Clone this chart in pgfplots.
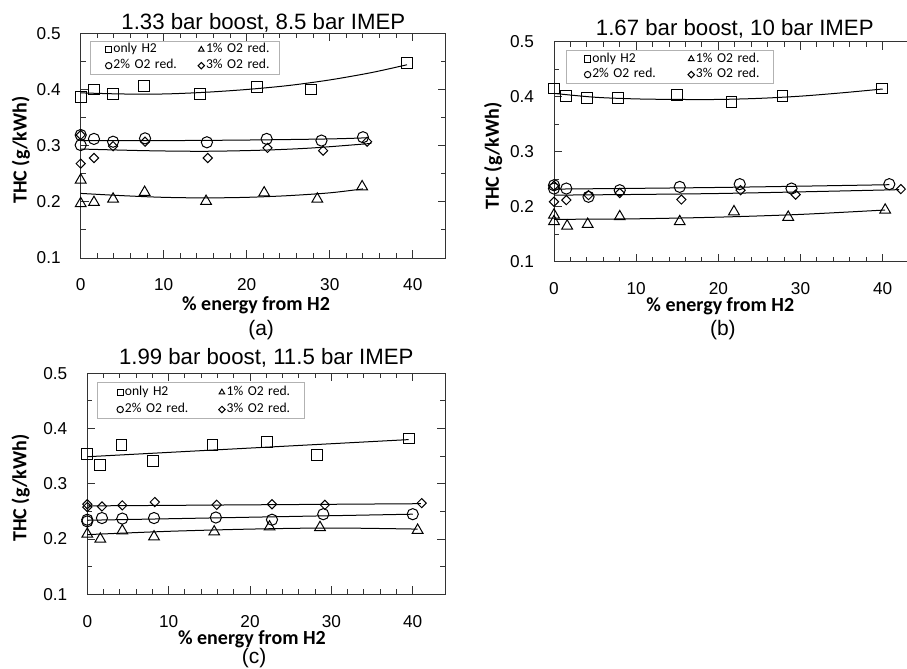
\documentclass[border=0pt]{standalone}
\usepackage{fontspec}
\setmainfont{Liberation Sans}
\newfontfamily\calibri{Carlito}
\usepackage{pgfplots}
\pgfplotsset{compat=1.18}

\pgfplotsset{
  thcax/.style={
    scale only axis,
    clip=false,
    anchor=south west,
    xmin=0, xmax=44, ymin=0.1, ymax=0.5,
    xtick={0,10,20,30,40}, minor x tick num=4,
    ytick={0.1,0.2,0.3,0.4,0.5}, minor y tick num=1,
    tick align=inside, tick pos=both,
    major tick length=4pt, minor tick length=2.5pt,
    axis line style={black!80, line width=0.5pt},
    every tick/.style={black!80, line width=0.5pt},
    /pgf/number format/assume math mode=true,
    yticklabel style={/pgf/number format/.cd, fixed, precision=1, fixed zerofill, /tikz/.cd, font=\fontsize{8.6}{9}\selectfont, xshift=-6.5pt},
    xticklabel style={font=\fontsize{8.6}{9}\selectfont, inner sep=0pt, yshift=-10.2pt},
    xlabel={\% energy from H2},
    ylabel={THC (g/kWh)},
    label style={font=\calibri\bfseries\fontsize{10}{11}\selectfont, inner sep=0pt},
    title style={font=\fontsize{11.1}{12}\selectfont, at={(axis description cs:0.5,1)}, anchor=base},
    legend columns=2,
    legend cell align=left,
    legend style={font=\calibri\fontsize{6.8}{8}\selectfont, draw=black!30, line width=0.5pt, anchor=north west, inner xsep=3pt},
  },
  limg/.style={legend image code/.code={\path (-1.6pt-#1,-1.6pt) (1.6pt,1.6pt); \draw[##1,mark size=1.6pt] plot coordinates {(0pt,0pt)};}},
  ltxt/.style={legend style={nodes={inner sep=0.5pt, text width=#1, align=left}}},
  sq/.style={only marks, mark=square, mark size=2.7pt, mark options={black, line width=0.5pt, fill=none}},
  tri/.style={only marks, mark=triangle, mark size=3.1pt, mark options={black, line width=0.5pt, fill=none}},
  circ/.style={only marks, mark=o, mark size=2.8pt, mark options={black, line width=0.5pt, fill=none}},
  dia/.style={only marks, mark=diamond, mark size=2.3pt, mark options={black, line width=0.5pt, fill=none, xscale=1.33}},
  fit/.style={black, line width=0.5pt, no marks, smooth, forget plot},
}

\begin{document}
\begin{tikzpicture}

% ---------------- (a) ----------------
\begin{axis}[thcax, at={(40.35pt,-129pt)}, width=182.65pt, height=112.35pt,
  title={1.33 bar boost, 8.5 bar IMEP},
  title style={yshift=-4pt},
  xlabel style={at={(axis description cs:0.48,0)}, anchor=base, yshift=-26pt},
  ylabel style={at={(axis description cs:-0.164,0.48)}, anchor=center},
  limg=4.25pt, ltxt=33pt,
  legend style={at={(axis description cs:0.0255,0.967)}, inner ysep=0.6pt, row sep=0.8pt,
    /tikz/every even column/.append style={column sep=4.35pt}}]
\addplot[sq] coordinates {(0,0.387)(1.6,0.400)(3.9,0.392)(7.6,0.406)(14.4,0.392)(21.2,0.405)(27.7,0.400)(39.3,0.447)};
\addlegendentry{only H2}
\addplot[tri] coordinates {(0,0.239)(0,0.197)(1.6,0.199)(3.9,0.205)(7.7,0.217)(15.1,0.201)(22.1,0.216)(28.5,0.205)(33.9,0.227)};
\addlegendentry{1\% O2 red.}
\addplot[circ] coordinates {(0,0.319)(0,0.301)(1.6,0.312)(3.9,0.307)(7.75,0.313)(15.2,0.306)(22.4,0.312)(29.0,0.309)(34.0,0.315)};
\addlegendentry{2\% O2 red.}
\addplot[dia] coordinates {(0,0.319)(0,0.268)(1.6,0.278)(3.9,0.299)(7.75,0.307)(15.3,0.278)(22.5,0.296)(29.2,0.291)(34.5,0.307)};
\addlegendentry{3\% O2 red.}
\addplot[fit] coordinates {(0,0.394)(5,0.392)(10,0.392)(15,0.395)(20,0.400)(25,0.407)(30,0.417)(35,0.430)(39.3,0.444)};
\addplot[fit] coordinates {(0,0.309)(10,0.309)(20,0.310)(30,0.312)(34.5,0.314)};
\addplot[fit] coordinates {(0,0.294)(8,0.291)(15,0.290)(22,0.292)(28,0.296)(35,0.304)};
\addplot[fit] coordinates {(0,0.215)(5,0.211)(10,0.208)(15,0.207)(20,0.208)(25,0.211)(30,0.216)(34,0.223)};
\node[font=\fontsize{10.5}{11}\selectfont] at (axis description cs:0.494,-0.32) {(a)};
\end{axis}

% ---------------- (b) ----------------
\begin{axis}[thcax, at={(277pt,-130.85pt)}, width=180.8pt, height=110pt,
  title={1.67 bar boost, 10 bar IMEP},
  title style={yshift=-2.7pt},
  xlabel style={at={(axis description cs:0.46,0)}, anchor=base, yshift=-25pt},
  ylabel style={at={(axis description cs:-0.168,0.48)}, anchor=center},
  limg=5.75pt, ltxt=35.1pt,
  legend style={at={(axis description cs:0.033,0.962)}, inner ysep=0.6pt, row sep=0.6pt,
    /tikz/every even column/.append style={column sep=6.25pt}}]
\addplot[sq] coordinates {(0,0.415)(1.5,0.402)(4.0,0.397)(7.8,0.397)(15.0,0.403)(21.6,0.391)(27.8,0.401)(39.9,0.415)};
\addlegendentry{only H2}
\addplot[tri] coordinates {(0,0.185)(0,0.173)(1.6,0.165)(4.1,0.168)(8.0,0.182)(15.3,0.173)(21.9,0.191)(28.5,0.181)(40.3,0.194)};
\addlegendentry{1\% O2 red.}
\addplot[circ] coordinates {(0,0.239)(0,0.233)(1.5,0.233)(4.2,0.218)(8.0,0.230)(15.3,0.236)(22.6,0.241)(28.9,0.233)(40.8,0.241)};
\addlegendentry{2\% O2 red.}
\addplot[dia] coordinates {(0,0.238)(0,0.209)(1.5,0.212)(4.2,0.221)(8.0,0.225)(15.5,0.213)(22.7,0.230)(29.4,0.222)(42.2,0.232)};
\addlegendentry{3\% O2 red.}
\addplot[fit] coordinates {(0,0.406)(5,0.399)(10,0.396)(15,0.395)(20,0.395)(25,0.397)(30,0.401)(35,0.407)(40,0.414)};
\addplot[fit] coordinates {(0,0.232)(20,0.235)(40.8,0.240)};
\addplot[fit] coordinates {(0,0.221)(20,0.224)(42,0.231)};
\addplot[fit] coordinates {(0,0.177)(10,0.178)(20,0.181)(30,0.186)(40.3,0.194)};
\node[font=\fontsize{10.5}{11}\selectfont] at (axis description cs:0.467,-0.31) {(b)};
\end{axis}

% ---------------- (c) ----------------
\begin{axis}[thcax, at={(43.65pt,-297.15pt)}, width=179pt, height=110.5pt,
  title={1.99 bar boost, 11.5 bar IMEP},
  title style={yshift=-1.8pt},
  xlabel style={at={(axis description cs:0.46,0)}, anchor=base, yshift=-25pt},
  ylabel style={at={(axis description cs:-0.186,0.48)}, anchor=center},
  limg=6.7pt, ltxt=35.55pt,
  legend style={at={(axis description cs:0.026,0.959)}, inner ysep=1.1pt, row sep=1.4pt,
    /tikz/every even column/.append style={column sep=3.9pt}}]
\addplot[sq] coordinates {(0,0.354)(1.6,0.334)(4.2,0.370)(8.1,0.341)(15.4,0.370)(22.1,0.375)(28.2,0.352)(39.5,0.382)};
\addlegendentry{only H2}
\addplot[tri] coordinates {(0,0.209)(1.6,0.200)(4.3,0.215)(8.2,0.204)(15.6,0.213)(22.4,0.222)(28.6,0.221)(40.6,0.216)};
\addlegendentry{1\% O2 red.}
\addplot[circ] coordinates {(0,0.235)(0,0.232)(1.8,0.238)(4.3,0.237)(8.2,0.238)(15.8,0.239)(22.7,0.235)(29.0,0.245)(40.0,0.245)};
\addlegendentry{2\% O2 red.}
\addplot[dia] coordinates {(0,0.263)(0,0.258)(1.8,0.259)(4.3,0.261)(8.3,0.267)(15.9,0.262)(22.7,0.263)(29.2,0.262)(41.1,0.265)};
\addlegendentry{3\% O2 red.}
\addplot[fit] coordinates {(0,0.349)(39.5,0.380)};
\addplot[fit] coordinates {(0,0.260)(41,0.264)};
\addplot[fit] coordinates {(0,0.234)(40,0.245)};
\addplot[fit] coordinates {(0,0.208)(10,0.214)(20,0.218)(30,0.220)(40.6,0.218)};
\node[font=\fontsize{10.5}{11}\selectfont] at (axis description cs:0.466,-0.288) {(c)};
\end{axis}

\pgfresetboundingbox
\path[use as bounding box] (0,0) rectangle (453.5pt,-334.5pt);
\end{tikzpicture}
\end{document}
